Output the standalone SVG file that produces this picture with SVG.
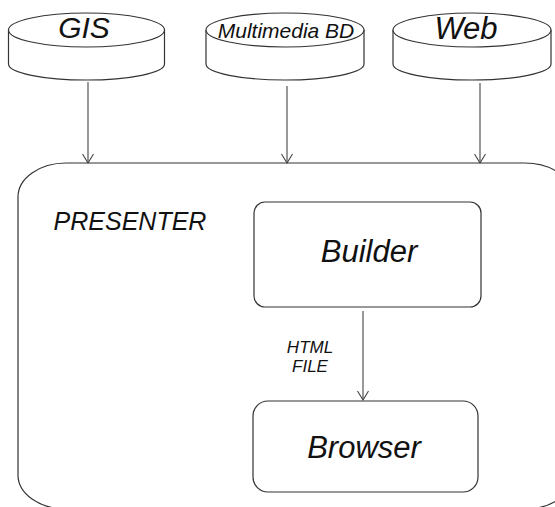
<svg xmlns="http://www.w3.org/2000/svg" width="555" height="507" viewBox="0 0 555 507">
<style>
.s{fill:#fff;stroke:#333;stroke-width:1.2}
.l{fill:none;stroke:#444;stroke-width:1.1}
.t{font-family:"Liberation Sans",Arial,sans-serif;font-style:italic;fill:#111;text-anchor:middle}
</style>
<defs>
<marker id="ah" markerUnits="userSpaceOnUse" markerWidth="14" markerHeight="14" refX="10" refY="6" orient="auto">
<path d="M1,0.5 L10,6 L1,11.5" fill="none" stroke="#444" stroke-width="1.1"/>
</marker>
</defs>
<rect width="555" height="507" fill="#fff"/>
<g id="presenter">
<rect class="s" x="18" y="163" width="555" height="346" rx="48" ry="34"/>
<text class="t" x="130" y="230" font-size="25">PRESENTER</text>
</g>
<g id="gis">
<path class="s" d="M8.5,30 V64 A78,16 0 0 0 164.5,64 V30"/>
<ellipse class="s" cx="86.5" cy="30" rx="78" ry="17"/>
<text class="t" x="84" y="38" font-size="30">GIS</text>
</g>
<g id="multimedia">
<path class="s" d="M206,30 V64 A79,16 0 0 0 364,64 V30"/>
<ellipse class="s" cx="285" cy="30" rx="79" ry="17"/>
<text class="t" x="286" y="38" font-size="21">Multimedia BD</text>
</g>
<g id="web">
<path class="s" d="M393,30 V64 A79,16 0 0 0 551,64 V30"/>
<ellipse class="s" cx="472" cy="30" rx="79" ry="17"/>
<text class="t" x="466" y="39" font-size="31">Web</text>
</g>
<g id="builder">
<rect class="s" x="254" y="202" width="227" height="105" rx="11" ry="11"/>
<text class="t" x="369" y="262" font-size="31">Builder</text>
</g>
<g id="browser">
<rect class="s" x="253" y="401" width="225" height="91" rx="15" ry="15"/>
<text class="t" x="364" y="458" font-size="31">Browser</text>
</g>
<g id="connectors">
<line class="l" x1="88" y1="82" x2="88" y2="163" marker-end="url(#ah)"/>
<line class="l" x1="287" y1="86" x2="287" y2="163" marker-end="url(#ah)"/>
<line class="l" x1="480" y1="83" x2="480" y2="163" marker-end="url(#ah)"/>
<line class="l" x1="363" y1="311" x2="363" y2="400" marker-end="url(#ah)"/>
<text class="t" x="310" y="353" font-size="17">HTML</text>
<text class="t" x="310" y="372" font-size="17">FILE</text>
</g>
</svg>
